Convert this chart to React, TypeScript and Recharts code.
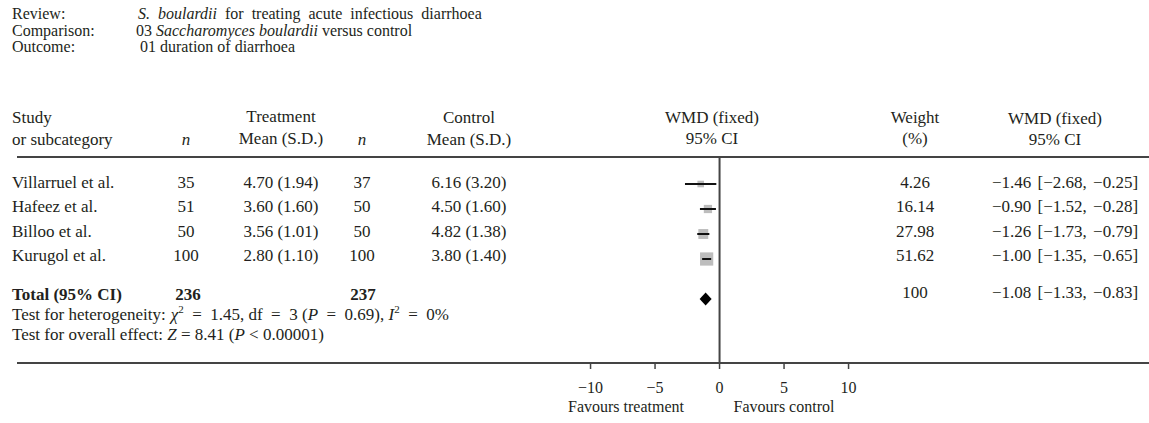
import React from 'react';
import { ComposedChart, Scatter, XAxis, YAxis, ReferenceLine } from 'recharts';

// study rows
const studies = ['Villarruel et al.', 'Hafeez et al.', 'Billoo et al.', 'Kurugol et al.'];
const treatN = [35, 51, 50, 100];
const treatMean = [4.7, 3.6, 3.56, 2.8];
const treatSd = [1.94, 1.6, 1.01, 1.1];
const ctrlN = [37, 50, 50, 100];
const ctrlMean = [6.16, 4.5, 4.82, 3.8];
const ctrlSd = [3.2, 1.6, 1.38, 1.4];
const weights = [4.26, 16.14, 27.98, 51.62];
const wmd = [-1.46, -0.9, -1.26, -1.0];
const ciLow = [-2.68, -1.52, -1.73, -1.35];
const ciHigh = [-0.25, -0.28, -0.79, -0.65];

// pooled result
const totalN = [236, 237];
const totalWeight = 100;
const totalWmd = -1.08;
const totalLow = -1.33;
const totalHigh = -0.83;

const xTicks = [-10, -5, 0, 5, 10];

const W = 1149;
const H = 423;
const FONT = "'Liberation Serif', 'DejaVu Serif', serif";
const INK = '#231f20';
const LINE = '#444';

const X_DOMAIN: [number, number] = [-54.46, 33.29];
const Y_DOMAIN: [number, number] = [-1.08, 7.16];
const TOTAL_ROW = 4.6;

const EQ = '\u2002=\u2002';
const fmt = (v: number) => (v < 0 ? '\u2212' + Math.abs(v).toFixed(2) : v.toFixed(2));
const ciText = (e: number, lo: number, hi: number) => `${fmt(e)} [${fmt(lo)}, ${fmt(hi)}]`;

const rows = studies.map((s, i) => ({ x: wmd[i], y: i, w: weights[i] }));
// each CI as a two-point segment, drawn on top of the squares
const ciSegments = studies.map((s, i) => [
  { x: ciLow[i], y: i },
  { x: ciHigh[i], y: i },
]);
const totalRow = [{ x: totalWmd, y: TOTAL_ROW, lo: totalLow, hi: totalHigh }];

const Square = (props: any) => {
  const { cx, cy, payload } = props;
  const s = 6 + 0.14 * payload.w;
  return <rect x={cx - s / 2} y={cy - s / 2} width={s} height={s} fill="#bdbdbd" />;
};

const Diamond = (props: any) => {
  const { cx, cy } = props;
  const hw = 6, hh = 6.5;
  return <polygon points={`${cx - hw},${cy} ${cx},${cy - hh} ${cx + hw},${cy} ${cx},${cy + hh}`} fill="#000" />;
};

const Nothing = () => <g />;

const T = ({ x, y, anchor = 'start', bold, children, ws, size = 17 }: any) => (
  <text x={x} y={y + 5} textAnchor={anchor} fontFamily={FONT} fontSize={size} fill={INK}
    fontWeight={bold ? 'bold' : 'normal'} wordSpacing={ws}>
    {children}
  </text>
);

const ROW0 = 183;
const STEP = 24.3;
const col = { name: 12, tn: 186, tm: 281, cn: 362, cm: 469, plot: 712, wt: 915, ci: 1065 };

export default function App() {
  return (
    <div style={{ position: 'absolute', left: 0, top: 0, width: W, height: H, background: '#fff' }}>
      <ComposedChart width={W} height={H} margin={{ top: 157, right: 0, bottom: 30, left: 17 }}>
        <XAxis
          type="number"
          dataKey="x"
          domain={X_DOMAIN}
          allowDataOverflow
          ticks={xTicks}
          height={30}
          tickSize={6}
          tickMargin={13}
          axisLine={{ stroke: LINE, strokeWidth: 2 }}
          tickLine={{ stroke: LINE, strokeWidth: 1.5 }}
          tick={{ fontSize: 16, fontFamily: FONT, fill: INK }}
          tickFormatter={(v: number) => (v < 0 ? '\u2212' + Math.abs(v) : String(v))}
        />
        <YAxis type="number" dataKey="y" domain={Y_DOMAIN} reversed hide allowDataOverflow />
        <ReferenceLine y={Y_DOMAIN[0]} stroke={LINE} strokeWidth={2} />
        <ReferenceLine x={0} stroke={LINE} strokeWidth={2} />
        <Scatter data={rows} shape={Square} isAnimationActive={false} />
        {ciSegments.map((seg, i) => (
          <Scatter key={i} data={seg} shape={Nothing} line={{ stroke: '#111', strokeWidth: 2 }} isAnimationActive={false} />
        ))}
        <Scatter data={totalRow} shape={Diamond} isAnimationActive={false} />
      </ComposedChart>

      <svg width={W} height={H} style={{ position: 'absolute', left: 0, top: 0, pointerEvents: 'none' }}>
        <T x={12} y={14} size={16}>Review:</T>
        <T x={138} y={14} size={16} ws={4}><tspan fontStyle="italic">S. boulardii</tspan> for treating acute infectious diarrhoea</T>
        <T x={12} y={31} size={16}>Comparison:</T>
        <T x={136} y={31} size={16}>03 <tspan fontStyle="italic">Saccharomyces boulardii</tspan> versus control</T>
        <T x={12} y={47} size={16}>Outcome:</T>
        <T x={140} y={47} size={16}>01 duration  of diarrhoea</T>

        <T x={col.name} y={118}>Study</T>
        <T x={col.name} y={140}>or subcategory</T>
        <T x={col.tn} y={140} anchor="middle"><tspan fontStyle="italic">n</tspan></T>
        <T x={col.tm} y={117} anchor="middle">Treatment</T>
        <T x={col.tm} y={139} anchor="middle">Mean (S.D.)</T>
        <T x={col.cn} y={140} anchor="middle"><tspan fontStyle="italic">n</tspan></T>
        <T x={col.cm} y={118} anchor="middle">Control</T>
        <T x={col.cm} y={140} anchor="middle">Mean (S.D.)</T>
        <T x={col.plot} y={118} anchor="middle">WMD (fixed)</T>
        <T x={col.plot} y={139} anchor="middle">95% CI</T>
        <T x={col.wt} y={118} anchor="middle">Weight</T>
        <T x={col.wt} y={139} anchor="middle">(%)</T>
        <T x={1055} y={119} anchor="middle">WMD (fixed)</T>
        <T x={1055} y={140} anchor="middle">95% CI</T>

        {studies.map((s, i) => {
          const y = ROW0 + STEP * i;
          return (
            <g key={s}>
              <T x={col.name} y={y}>{s}</T>
              <T x={col.tn} y={y} anchor="middle">{treatN[i]}</T>
              <T x={col.tm} y={y} anchor="middle">{`${treatMean[i].toFixed(2)} (${treatSd[i].toFixed(2)})`}</T>
              <T x={col.cn} y={y} anchor="middle">{ctrlN[i]}</T>
              <T x={col.cm} y={y} anchor="middle">{`${ctrlMean[i].toFixed(2)} (${ctrlSd[i].toFixed(2)})`}</T>
              <T x={col.wt} y={y} anchor="middle">{weights[i].toFixed(2)}</T>
              <T x={col.ci} y={y} anchor="middle" ws={2}>{ciText(wmd[i], ciLow[i], ciHigh[i])}</T>
            </g>
          );
        })}

        <T x={col.name} y={295} bold>Total (95% CI)</T>
        <T x={col.tn + 2} y={295} anchor="middle" bold>{totalN[0]}</T>
        <T x={col.cn + 1} y={295} anchor="middle" bold>{totalN[1]}</T>
        <T x={col.wt} y={293} anchor="middle">{totalWeight}</T>
        <T x={col.ci} y={293} anchor="middle" ws={2}>{ciText(totalWmd, totalLow, totalHigh)}</T>

        <T x={col.name} y={315}>
          {'Test for heterogeneity:'}<tspan dx={5} fontStyle="italic">χ</tspan><tspan dy={-7} fontSize={11}>2</tspan>
          <tspan dy={7}>{`${EQ}1.45, df${EQ}3 (`}</tspan><tspan fontStyle="italic">P</tspan>{`${EQ}0.69), `}<tspan fontStyle="italic">I</tspan>
          <tspan dy={-7} fontSize={11}>2</tspan><tspan dy={7}>{`${EQ}0%`}</tspan>
        </T>
        <T x={col.name} y={335}>
          {'Test for overall effect: '}<tspan fontStyle="italic">Z</tspan>{' = 8.41 ('}<tspan fontStyle="italic">P</tspan>{' < 0.00001)'}
        </T>

        <T x={626} y={407} anchor="middle" size={16}>Favours treatment</T>
        <T x={784} y={407} anchor="middle" size={16}>Favours control</T>
      </svg>
    </div>
  );
}
